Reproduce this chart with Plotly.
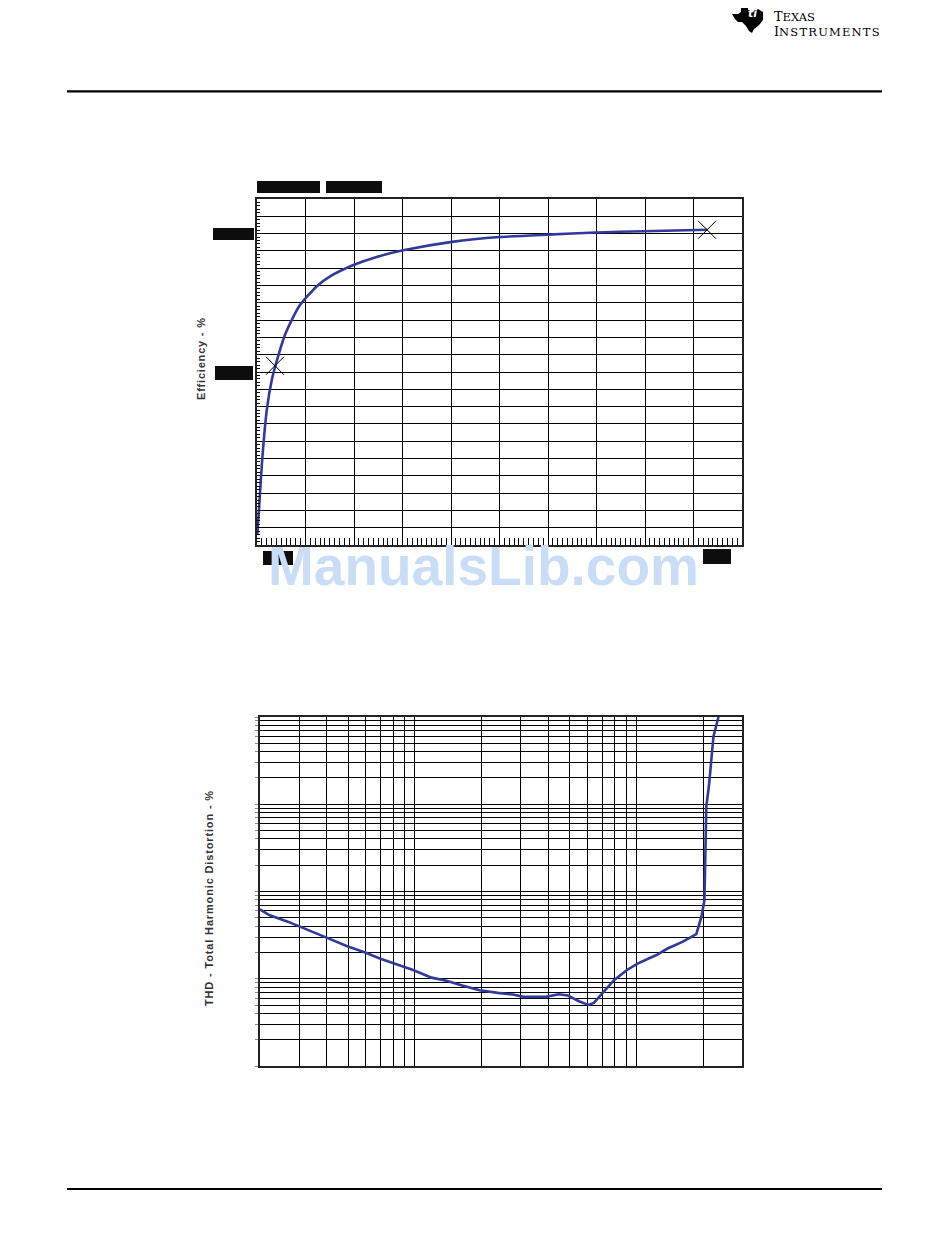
import math
import plotly.graph_objects as go

# the page body has an 8px margin, so the figure is drawn 8px in from the corner
OFF = 8
W, H = 950 - OFF, 1241 - OFF

# ---------------- data: efficiency chart (x in axis units 0-10, y in %) ----------------
eff_x = [0.005, 0.04, 0.107, 0.206, 0.305, 0.38, 0.587, 0.869, 1.235, 1.54, 2.0, 2.45,
         2.99, 4.02, 5.0, 6.0, 6.99, 7.98, 9.28]
eff_y = [3.0, 10.0, 24.7, 39.5, 47.7, 51.8, 61.1, 69.0, 74.8, 77.9, 81.0, 83.2,
         85.1, 87.6, 89.0, 89.7, 90.3, 90.7, 91.1]
mark_x = [0.37, 9.28]
mark_y = [51.8, 91.1]

# ---------------- data: THD chart (log-log) ----------------
thd_x = [0.02, 0.022, 0.0267, 0.0299, 0.0336, 0.0407, 0.0492, 0.0597, 0.0695, 0.0875,
         0.0982, 0.119, 0.139, 0.162, 0.196, 0.237, 0.277, 0.310, 0.390, 0.446, 0.491,
         0.551, 0.607, 0.643, 0.793, 0.907, 1.018, 1.233, 1.384, 1.614, 1.866, 1.968,
         2.03, 2.07, 2.13, 2.23, 2.35]
thd_y = [0.0624, 0.0537, 0.0451, 0.0402, 0.0355, 0.0290, 0.0237, 0.0200, 0.0171, 0.0139,
         0.0126, 0.0103, 0.00946, 0.00844, 0.00739, 0.00689, 0.00659, 0.00620, 0.00620,
         0.00665, 0.00642, 0.00553, 0.00502, 0.00529, 0.00964, 0.0126, 0.0150, 0.0187,
         0.0222, 0.0265, 0.0325, 0.0514, 0.0798, 0.942, 1.67, 6.0, 10.0]

eff_title = "Efficiency - %"
thd_title = "THD - Total Harmonic Distortion - %"
watermark = "ManualsLib.com"

CURVE = "#31399a"


def px(x):
    return (x - OFF) / W


def py(y):
    return 1 - (y - OFF) / H


fig = go.Figure()

fig.add_trace(go.Scatter(x=eff_x, y=eff_y, mode="lines", xaxis="x", yaxis="y",
                         line=dict(color=CURVE, width=2.6, shape="spline", smoothing=0.6),
                         showlegend=False, hoverinfo="skip"))
fig.add_trace(go.Scatter(x=mark_x, y=mark_y, mode="markers", xaxis="x", yaxis="y",
                         marker=dict(symbol="x-thin", size=18, line=dict(color="black", width=1)),
                         showlegend=False, hoverinfo="skip"))
fig.add_trace(go.Scatter(x=thd_x, y=thd_y, mode="lines", xaxis="x2", yaxis="y2",
                         line=dict(color=CURVE, width=2.6),
                         showlegend=False, hoverinfo="skip"))

grid = dict(showgrid=True, gridcolor="black", gridwidth=1.2, zeroline=False,
            showline=True, mirror=True, linecolor="#222222", linewidth=2.2,
            showticklabels=False)

fig.update_layout(
    width=W, height=H, margin=dict(l=0, r=0, t=0, b=0),
    paper_bgcolor="white", plot_bgcolor="white",
    xaxis=dict(domain=[px(257), px(742)], range=[0, 10], dtick=1, ticks="inside",
               ticklen=7, tickcolor="black",
               minor=dict(dtick=0.1, ticks="inside", ticklen=7, tickcolor="black",
                          tickwidth=1, showgrid=False),
               anchor="y", **grid),
    yaxis=dict(domain=[py(545), py(199)], range=[0, 100], dtick=5, ticks="inside",
               ticklen=3, tickcolor="black",
               minor=dict(dtick=1, ticks="inside", ticklen=3, tickcolor="black",
                          tickwidth=1, showgrid=False),
               anchor="x", **grid),
    xaxis2=dict(domain=[px(260), px(742)], type="log",
                range=[math.log10(0.02), math.log10(3)], dtick="D1", ticks="",
                anchor="y2", **grid),
    yaxis2=dict(domain=[py(1066), py(717)], type="log", range=[-3, 1], dtick="D1",
                ticks="outside", ticklen=3, tickcolor="#888888",
                anchor="x2", **grid),
)

shapes = []


def box(x0, y0, x1, y1, color="#0d0d0d"):
    shapes.append(dict(type="rect", xref="paper", yref="paper",
                       x0=px(x0), x1=px(x1), y0=py(y1), y1=py(y0),
                       fillcolor=color, line=dict(width=0), layer="above"))


# redacted label boxes
box(257, 181, 320, 193)
box(326, 181, 382, 193)
box(213, 228, 254, 240)
box(215, 366, 253, 380)
box(263, 551, 293, 565)
box(703, 549, 731, 564)

# horizontal page rules
for yy in (91.3, 1189):
    shapes.append(dict(type="line", xref="paper", yref="paper",
                       x0=px(67), x1=px(882), y0=py(yy), y1=py(yy),
                       line=dict(color="black", width=2.2)))

# TI logo silhouette
logo_pts = [(741, 1), (748, 1), (748, 10), (753, 11), (758, 9), (763, 12), (763, 20),
            (760, 24), (757, 27), (754, 29), (752, 33), (749, 31), (746, 26), (742, 22),
            (738, 22), (735, 19), (732, 14), (738, 14), (741, 12)]
path = "M " + " L ".join(f"{px(a):.5f},{py(b):.5f}" for a, b in logo_pts) + " Z"
shapes.append(dict(type="path", xref="paper", yref="paper", path=path,
                   fillcolor="black", line=dict(width=0)))

fig.update_layout(shapes=shapes)

ann = []
ann.append(dict(text=f"<span style='letter-spacing:0.8px'>{eff_title}</span>",
                x=px(201), y=py(359), xref="paper", yref="paper", showarrow=False,
                textangle=-90, xanchor="center", yanchor="middle",
                font=dict(family="Liberation Sans", size=11, color="#333333", weight="bold")))
ann.append(dict(text=f"<span style='letter-spacing:0.85px'>{thd_title}</span>",
                x=px(209), y=py(898), xref="paper", yref="paper", showarrow=False,
                textangle=-90, xanchor="center", yanchor="middle",
                font=dict(family="Liberation Sans", size=11, color="#333333", weight="bold")))
ann.append(dict(text=watermark, x=px(483), y=py(566), xref="paper", yref="paper",
                showarrow=False, xanchor="center", yanchor="middle",
                font=dict(family="Liberation Sans", size=55, color="#c9ddf6", weight="bold")))
ann.append(dict(text="ti", x=px(752.5), y=py(14), xref="paper", yref="paper",
                showarrow=False, xanchor="center", yanchor="middle",
                font=dict(family="DejaVu Sans", size=11, color="white", weight="bold",
                          style="italic")))
ann.append(dict(text=("<span style='font-size:12.8px'>T</span>EXAS<br>"
                      "<span style='font-size:12.8px'>I</span>"
                      "<span style='letter-spacing:1.2px'>NSTRUMENTS</span>"),
                x=px(773), y=1, xref="paper", yref="paper", showarrow=False,
                xanchor="left", yanchor="top", align="left", borderpad=0,
                font=dict(family="DejaVu Serif", size=11.5, color="black")))
fig.update_layout(annotations=ann)

fig.write_html("out.html")
